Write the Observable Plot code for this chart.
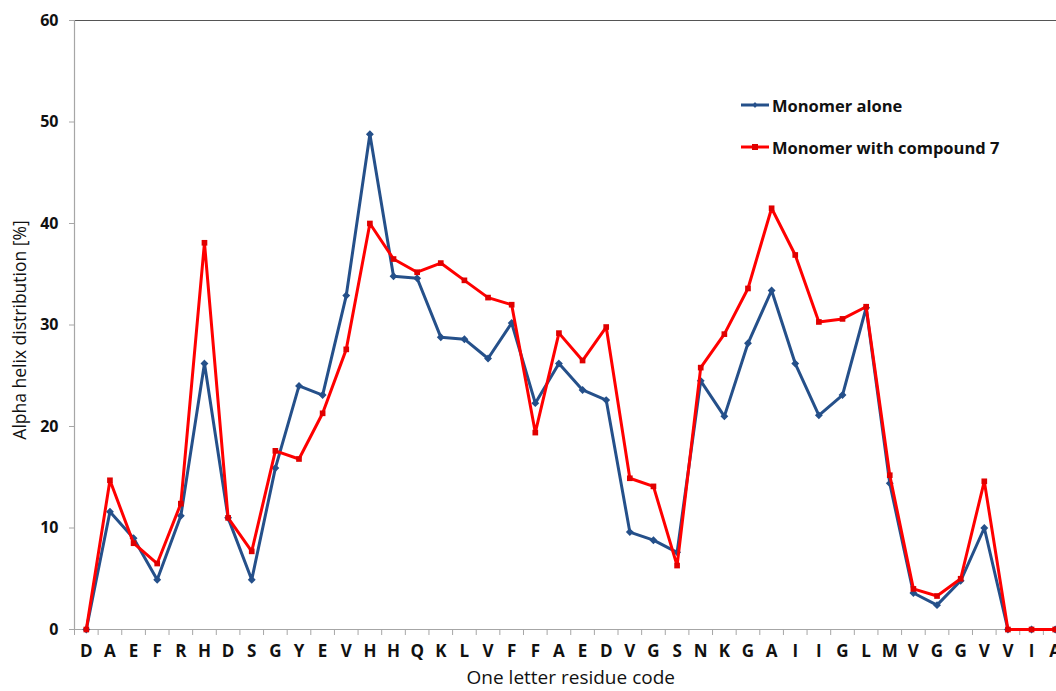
<!DOCTYPE html>
<html>
<head>
<meta charset="utf-8">
<script src="https://cdn.jsdelivr.net/npm/d3@7"></script>
<script src="https://cdn.jsdelivr.net/npm/@observablehq/plot@0.6"></script>
<style>
html, body { margin: 0; padding: 0; background: #fff; overflow: hidden; width: 1056px; height: 691px; }
#wrap { position: relative; width: 1056px; height: 691px; overflow: hidden; }
#chart svg { max-width: none !important; }
#legend { position: absolute; left: 741px; top: 93px; font-family: "Open Sans", sans-serif; font-weight: bold; font-size: 16.5px; color: #111; }
#legend .row { display: flex; align-items: center; height: 24px; margin-bottom: 18px; }
#legend svg { margin-right: 3px; }
</style>
</head>
<body>
<div id="wrap">
<div id="chart"></div>
<div id="legend"></div>
</div>
<script>
const residues = ["D","A","E","F","R","H","D","S","G","Y","E","V","H","H","Q","K","L","V","F","F","A","E","D","V","G","S","N","K","G","A","I","I","G","L","M","V","G","G","V","V","I","A"];
const monomerAlone = [0,11.6,9.0,4.9,11.2,26.2,11.0,4.9,15.9,24.0,23.1,32.9,48.8,34.8,34.6,28.8,28.6,26.7,30.2,22.3,26.2,23.6,22.6,9.6,8.8,7.6,24.5,21.0,28.2,33.4,26.2,21.1,23.1,31.7,14.4,3.6,2.4,4.8,10.0,0,0,0];
const monomerCompound7 = [0,14.7,8.5,6.5,12.4,38.1,11.0,7.7,17.6,16.8,21.3,27.6,40.0,36.5,35.2,36.1,34.4,32.7,32.0,19.4,29.2,26.5,29.8,14.9,14.1,6.3,25.8,29.1,33.6,41.5,36.9,30.3,30.6,31.8,15.2,4.0,3.3,5.0,14.6,0,0,0];
const yTicks = [0,10,20,30,40,50,60];
const seriesNames = ["Monomer alone","Monomer with compound 7"];
const colors = ["#25508a","#ff0000"];

const idx = residues.map((_, i) => i);
const blue = idx.map(i => ({i, v: monomerAlone[i]}));
const red = idx.map(i => ({i, v: monomerCompound7[i]}));
const halfTicks = d3.range(-0.5, residues.length, 1);

const chart = Plot.plot({
  width: 1080,
  height: 691,
  marginLeft: 74,
  marginRight: 13.5,
  marginTop: 20,
  marginBottom: 62,
  style: { fontFamily: "'Open Sans', sans-serif", background: "#fff", maxWidth: "none" },
  x: { type: "linear", domain: [-0.5, residues.length - 0.5] },
  y: { domain: [0, 60] },
  marks: [
    Plot.ruleY([60], { stroke: "#555", strokeWidth: 1.2 }),
    Plot.ruleY([0], { stroke: "#a6a6a6", strokeWidth: 1.2 }),
    Plot.ruleX([-0.5], { stroke: "#a6a6a6", strokeWidth: 1.2 }),
    Plot.axisY(yTicks, { tickSize: 5, tickPadding: 11, stroke: "#a6a6a6", fontSize: 16, fontWeight: "bold", fill: "#111", label: null }),
    Plot.axisX(halfTicks, { tickSize: 6, tickFormat: () => "", stroke: "#a6a6a6", label: null }),
    Plot.axisX(idx, { tickSize: 0, tickPadding: 15, tickFormat: i => residues[i], fontSize: 17, fontWeight: "bold", fill: "#111", label: null }),
    Plot.text(["Alpha helix distribution [%]"], { frameAnchor: "left", textAnchor: "middle", rotate: -90, dx: -54, dy: 5, fontSize: 17.5, fill: "#111" }),
    Plot.text(["One letter residue code"], { frameAnchor: "bottom", dy: 54.5, dx: 0, fontSize: 19, fill: "#111" }),
    Plot.line(blue, { x: "i", y: "v", stroke: colors[0], strokeWidth: 3 }),
    Plot.dot(blue, { x: "i", y: "v", symbol: "diamond2", r: 2.6, stroke: colors[0], strokeWidth: 1.5, fill: colors[0] }),
    Plot.line(red, { x: "i", y: "v", stroke: colors[1], strokeWidth: 3 }),
    Plot.dot(red, { x: "i", y: "v", symbol: "square", r: 3.2, fill: "#e00000", stroke: "none" })
  ]
});
document.getElementById("chart").appendChild(chart);

const legend = document.getElementById("legend");
seriesNames.forEach((name, k) => {
  const row = document.createElement("div");
  row.className = "row";
  const marker = k === 0
    ? `<path d="M14,9 L16.5,12 L14,15 L11.5,12 Z" fill="${colors[0]}"/>`
    : `<rect x="11" y="9" width="6" height="6" fill="#e00000"/>`;
  row.innerHTML = `<svg width="28" height="24"><line x1="0" x2="28" y1="12" y2="12" stroke="${colors[k]}" stroke-width="3"/>${marker}</svg><span>${name}</span>`;
  legend.appendChild(row);
});
</script>
</body>
</html>
